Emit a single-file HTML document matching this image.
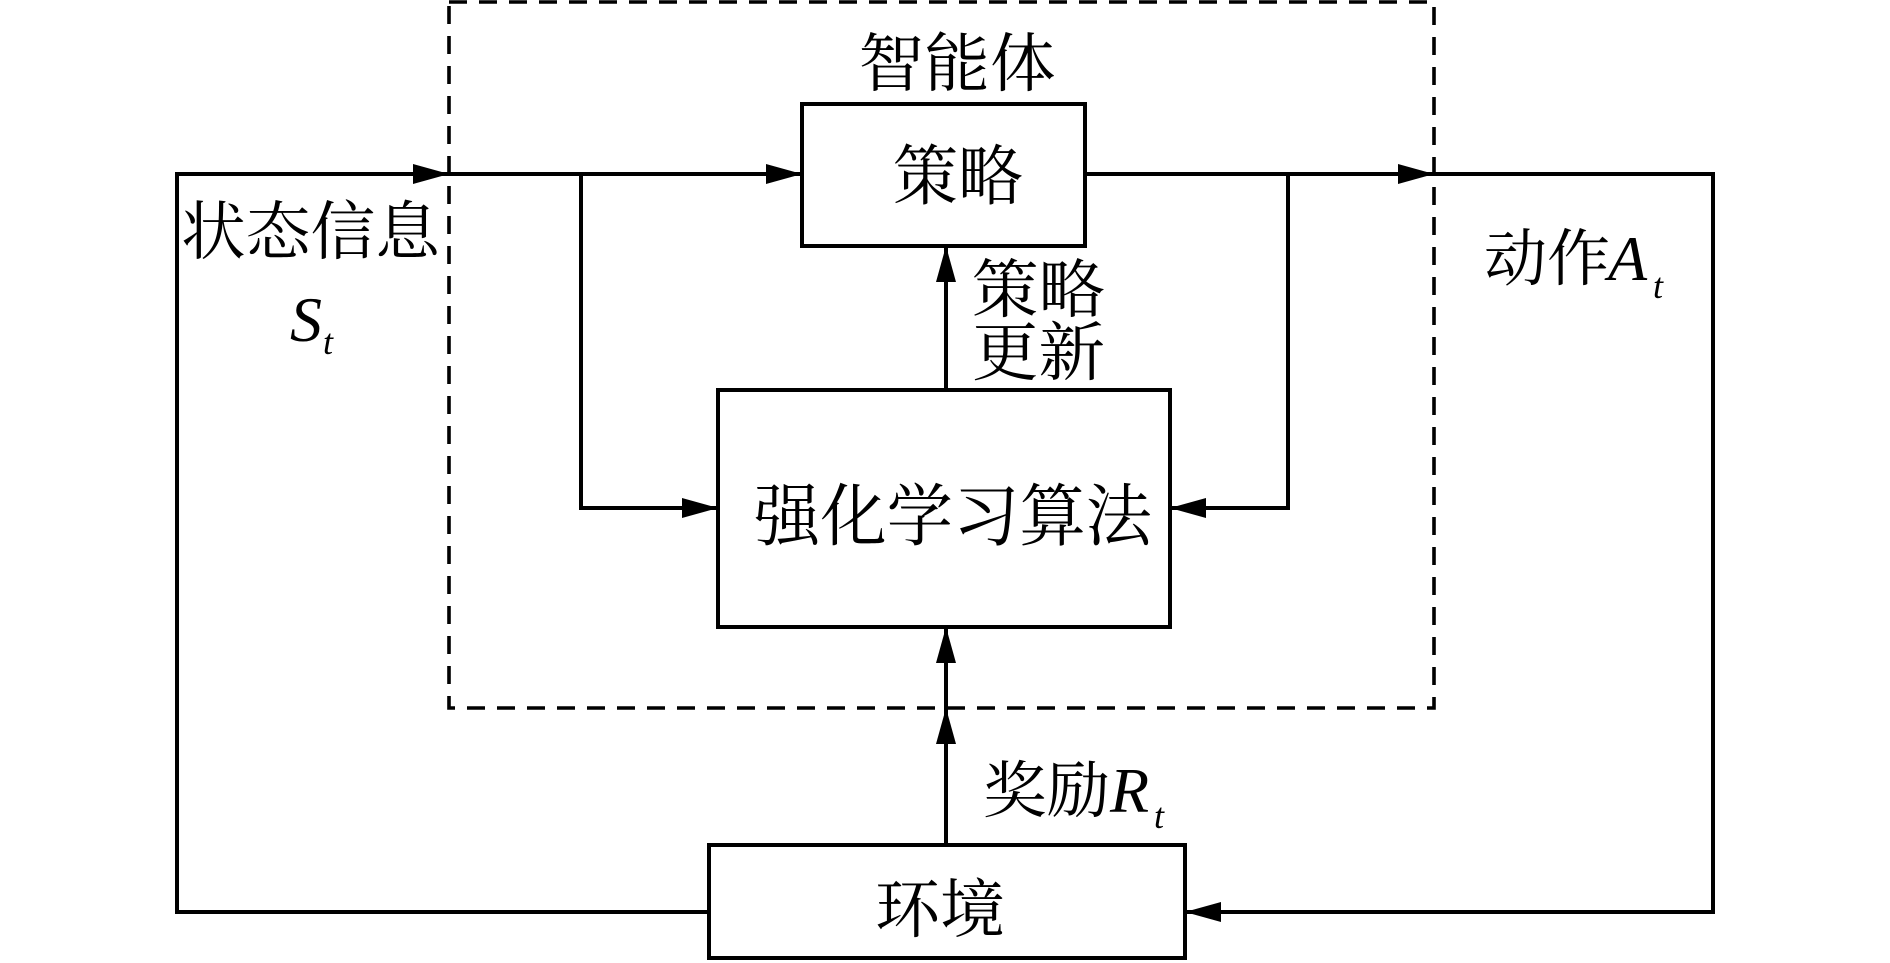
<!DOCTYPE html>
<html><head><meta charset="utf-8"><style>
html,body{margin:0;padding:0;background:#fff;}
svg{display:block;}
text{font-family:"Liberation Serif","Noto Serif CJK SC",serif;fill:#000;}
.it{font-style:italic;}
</style></head><body>
<svg width="1890" height="963" viewBox="0 0 1890 963" xmlns="http://www.w3.org/2000/svg">
<g fill="none" stroke="#000" stroke-width="4">
<rect x="449" y="2" width="985" height="706" stroke-dasharray="18,12" stroke-width="3.6"/>
<rect x="802" y="104" width="283" height="142"/>
<rect x="718" y="390" width="452" height="237"/>
<rect x="709" y="845" width="476" height="113"/>
<polyline points="709,912 177,912 177,174 802,174"/>
<polyline points="1085,174 1713,174 1713,912 1185,912"/>
<polyline points="581,174 581,508 718,508"/>
<polyline points="1288,174 1288,508 1170,508"/>
<line x1="946" y1="390" x2="946" y2="246"/>
<line x1="946" y1="845" x2="946" y2="627"/>
</g>
<g fill="#000">
<polygon points="449,174 413,164 413,184"/>
<polygon points="802,174 766,164 766,184"/>
<polygon points="1434,174 1398,164 1398,184"/>
<polygon points="718,508 682,498 682,518"/>
<polygon points="1170,508 1206,498 1206,518"/>
<polygon points="1185,912 1221,902 1221,922"/>
<polygon points="946,246 936,282 956,282"/>
<polygon points="946,627 936,663 956,663"/>
<polygon points="946,708 936,744 956,744"/>
</g>
<text x="957" y="86" font-size="64" text-anchor="middle" textLength="197" lengthAdjust="spacingAndGlyphs">智能体</text>
<text x="958" y="199" font-size="66" text-anchor="middle" textLength="130" lengthAdjust="spacingAndGlyphs">策略</text>
<text x="181" y="254" font-size="64" textLength="259" lengthAdjust="spacingAndGlyphs">状态信息</text>
<text x="290" y="341" font-size="64" class="it">S</text>
<text x="323" y="354" font-size="36" class="it">t</text>
<text x="972" y="312" font-size="64" textLength="133" lengthAdjust="spacingAndGlyphs">策略</text>
<text x="972" y="375" font-size="64" textLength="133" lengthAdjust="spacingAndGlyphs">更新</text>
<text x="1484" y="280" font-size="62" textLength="126" lengthAdjust="spacingAndGlyphs">动作</text>
<text x="1608" y="280" font-size="64" class="it">A</text>
<text x="1653" y="298" font-size="36" class="it">t</text>
<text x="754" y="540" font-size="68" textLength="398" lengthAdjust="spacingAndGlyphs">强化学习算法</text>
<text x="983" y="812" font-size="62" textLength="127" lengthAdjust="spacingAndGlyphs">奖励</text>
<text x="1110" y="812" font-size="64" class="it">R</text>
<text x="1154" y="828" font-size="36" class="it">t</text>
<text x="940" y="932" font-size="64" text-anchor="middle" textLength="130" lengthAdjust="spacingAndGlyphs">环境</text>
</svg>
</body></html>
